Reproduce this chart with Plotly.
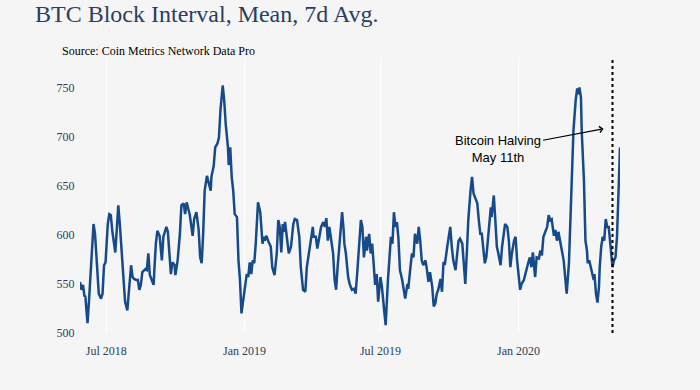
import plotly.graph_objects as go

dates = [
    "2018-05-27", "2018-05-29", "2018-05-31", "2018-06-02", "2018-06-03", "2018-06-06", "2018-06-08", "2018-06-11",
    "2018-06-14", "2018-06-16", "2018-06-19", "2018-06-21", "2018-06-24", "2018-06-26", "2018-06-28", "2018-06-30",
    "2018-07-03", "2018-07-05", "2018-07-07", "2018-07-09", "2018-07-13", "2018-07-14", "2018-07-17", "2018-07-19",
    "2018-07-21", "2018-07-23", "2018-07-26", "2018-07-29", "2018-07-30", "2018-08-02", "2018-08-03", "2018-08-05",
    "2018-08-07", "2018-08-10", "2018-08-12", "2018-08-14", "2018-08-16", "2018-08-18", "2018-08-22", "2018-08-24",
    "2018-08-26", "2018-08-28", "2018-08-30", "2018-09-02", "2018-09-03", "2018-09-05", "2018-09-07", "2018-09-10",
    "2018-09-13", "2018-09-15", "2018-09-19", "2018-09-21", "2018-09-25", "2018-09-27", "2018-09-30", "2018-10-01",
    "2018-10-04", "2018-10-07", "2018-10-09", "2018-10-12", "2018-10-14", "2018-10-16", "2018-10-18", "2018-10-20",
    "2018-10-24", "2018-10-26", "2018-10-29", "2018-11-01", "2018-11-03", "2018-11-05", "2018-11-07", "2018-11-09",
    "2018-11-12", "2018-11-14", "2018-11-17", "2018-11-18", "2018-11-21", "2018-11-23", "2018-11-26", "2018-11-28",
    "2018-11-30", "2018-12-03", "2018-12-05", "2018-12-07", "2018-12-10", "2018-12-11", "2018-12-13", "2018-12-15",
    "2018-12-17", "2018-12-19", "2018-12-22", "2018-12-24", "2018-12-26", "2018-12-28", "2018-12-31",
    "2019-01-02", "2019-01-04", "2019-01-06", "2019-01-08", "2019-01-10", "2019-01-12", "2019-01-14", "2019-01-16",
    "2019-01-19", "2019-01-22", "2019-01-25", "2019-01-27", "2019-01-28", "2019-01-30", "2019-02-02", "2019-02-05",
    "2019-02-07", "2019-02-10", "2019-02-13", "2019-02-15", "2019-02-17", "2019-02-19", "2019-02-21", "2019-02-22",
    "2019-02-24", "2019-02-26", "2019-03-01", "2019-03-04", "2019-03-07", "2019-03-09", "2019-03-12", "2019-03-15",
    "2019-03-17", "2019-03-20", "2019-03-23", "2019-03-25", "2019-03-28", "2019-03-31", "2019-04-02", "2019-04-03",
    "2019-04-06", "2019-04-08", "2019-04-10", "2019-04-13", "2019-04-16", "2019-04-18", "2019-04-20", "2019-04-22",
    "2019-04-24", "2019-04-26", "2019-04-29", "2019-05-01", "2019-05-03", "2019-05-05", "2019-05-08", "2019-05-11",
    "2019-05-13", "2019-05-14", "2019-05-16", "2019-05-18", "2019-05-19", "2019-05-21", "2019-05-24", "2019-05-27",
    "2019-05-29", "2019-05-31", "2019-06-03", "2019-06-05", "2019-06-07", "2019-06-09", "2019-06-12", "2019-06-13",
    "2019-06-16", "2019-06-18", "2019-06-20", "2019-06-22", "2019-06-24", "2019-06-26", "2019-06-28", "2019-07-01",
    "2019-07-03", "2019-07-06", "2019-07-08", "2019-07-11", "2019-07-14", "2019-07-15", "2019-07-17", "2019-07-19",
    "2019-07-21", "2019-07-23", "2019-07-25", "2019-07-27", "2019-07-30", "2019-08-01", "2019-08-03", "2019-08-06",
    "2019-08-07", "2019-08-10", "2019-08-12", "2019-08-14", "2019-08-16", "2019-08-19", "2019-08-21", "2019-08-23",
    "2019-08-25", "2019-08-27", "2019-08-30", "2019-09-01", "2019-09-03", "2019-09-05", "2019-09-08", "2019-09-10",
    "2019-09-12", "2019-09-14", "2019-09-16", "2019-09-19", "2019-09-21", "2019-09-23", "2019-09-25", "2019-09-28",
    "2019-09-30", "2019-10-02", "2019-10-04", "2019-10-06", "2019-10-09", "2019-10-11", "2019-10-13", "2019-10-15",
    "2019-10-18", "2019-10-20", "2019-10-22", "2019-10-24", "2019-10-26", "2019-10-29", "2019-10-31", "2019-11-02",
    "2019-11-04", "2019-11-07", "2019-11-09", "2019-11-11", "2019-11-13", "2019-11-15", "2019-11-17", "2019-11-19",
    "2019-11-21", "2019-11-23", "2019-11-25", "2019-11-26", "2019-11-29", "2019-12-01", "2019-12-03", "2019-12-05",
    "2019-12-08", "2019-12-10", "2019-12-12", "2019-12-14", "2019-12-17", "2019-12-19", "2019-12-21", "2019-12-23",
    "2019-12-26", "2019-12-28", "2019-12-30",
    "2020-01-01", "2020-01-03", "2020-01-05", "2020-01-08", "2020-01-10", "2020-01-12", "2020-01-14", "2020-01-16",
    "2020-01-18", "2020-01-20", "2020-01-21", "2020-01-23", "2020-01-25", "2020-01-28", "2020-01-30", "2020-02-01",
    "2020-02-03", "2020-02-06", "2020-02-08", "2020-02-10", "2020-02-12", "2020-02-14", "2020-02-17", "2020-02-19",
    "2020-02-21", "2020-02-23", "2020-02-26", "2020-02-28", "2020-03-01", "2020-03-03", "2020-03-05", "2020-03-08",
    "2020-03-10", "2020-03-12", "2020-03-14", "2020-03-17", "2020-03-19", "2020-03-20", "2020-03-22", "2020-03-24",
    "2020-03-25", "2020-03-28", "2020-03-30", "2020-04-01", "2020-04-02", "2020-04-04", "2020-04-06", "2020-04-08",
    "2020-04-10", "2020-04-11", "2020-04-13", "2020-04-15", "2020-04-17", "2020-04-18", "2020-04-20", "2020-04-22",
    "2020-04-24", "2020-04-26", "2020-04-28", "2020-04-30", "2020-05-02", "2020-05-04", "2020-05-05", "2020-05-07",
    "2020-05-09", "2020-05-11", "2020-05-13", "2020-05-15",
]

block_interval = [
    552, 544, 549, 537, 538, 510, 533, 567,
    611, 601, 560, 540, 535, 540, 569, 572,
    611, 621, 620, 604, 582, 598, 630, 611,
    591, 564, 532, 523, 533, 560, 569, 557,
    555, 554, 554, 544, 549, 562, 565, 564,
    581, 559, 554, 549, 564, 591, 604, 599,
    574, 598, 608, 603, 560, 572, 569, 559,
    574, 601, 630, 632, 621, 633, 627, 621,
    599, 616, 623, 605, 577, 571, 601, 645,
    660, 654, 645, 659, 670, 689, 693, 699,
    727, 752, 737, 713, 689, 671, 689, 659,
    645, 621, 618, 574, 554, 520, 537,
    545, 560, 557, 572, 560, 574, 571, 591,
    633, 623, 591, 598, 594, 599, 593, 588,
    567, 559, 581, 615, 608, 582, 611, 603,
    613, 598, 581, 588, 611, 616, 615, 598,
    567, 544, 542, 567, 584, 598, 608, 598,
    598, 586, 594, 608, 613, 608, 617, 594,
    608, 598, 581, 554, 544, 567, 594, 623,
    605, 591, 581, 560, 557, 550, 544, 545,
    540, 560, 594, 615, 608, 577, 598, 584,
    601, 581, 591, 574, 549, 560, 532, 557,
    547, 523, 508, 554, 588, 598, 591, 623,
    608, 613, 596, 564, 554, 542, 535, 550,
    545, 567, 581, 577, 601, 591, 608, 594,
    574, 569, 574, 564, 552, 562, 547, 527,
    530, 540, 544, 555, 542, 572, 571, 588,
    596, 608, 588, 574, 564, 581, 594, 596,
    591, 571, 550, 581, 615, 645, 659, 642,
    638, 632, 615, 601, 601, 584, 571, 577,
    594, 608, 628, 618, 640, 615, 588, 581,
    569, 588, 601, 611, 608, 594, 567, 581,
    594, 598, 574,
    554, 544, 550, 554, 560, 567, 572, 577,
    567, 582, 574, 557, 577, 576, 584, 579,
    598, 605, 608, 620, 615, 616, 599, 605,
    594, 603, 591, 584, 574, 557, 540, 571,
    621, 672, 706, 737, 749, 743, 750, 740,
    706, 655, 594, 584, 571, 574, 567, 562,
    554, 560, 540, 531, 547, 567, 588, 598,
    594, 616, 608, 608, 588, 574, 567, 574,
    577, 598, 638, 689,
]

x_tick_vals = ["2018-07-01", "2019-01-01", "2019-07-01", "2020-01-01"]
x_tick_text = ["Jul 2018", "Jan 2019", "Jul 2019", "Jan 2020"]
y_tick_vals = [500, 550, 600, 650, 700, 750]

halving_marker_date = "2020-05-05"
arrow_point = ("2020-04-23", 708)

SERIF = "Liberation Serif, Times New Roman, serif"
SANS = "Liberation Sans, Arial, sans-serif"
BG = "#f5f5f5"

fig = go.Figure()
fig.add_trace(go.Scatter(
    x=dates, y=block_interval, mode="lines",
    line=dict(color="#164a8a", width=2.5),
    showlegend=False,
))

fig.add_shape(type="line", xref="x", yref="paper",
              x0=halving_marker_date, x1=halving_marker_date, y0=0, y1=1,
              line=dict(color="black", width=2, dash="dot"))

fig.add_annotation(
    x=arrow_point[0], y=arrow_point[1], xref="x", yref="y",
    text="Bitcoin Halving<br>May 11th", showarrow=True,
    ax=-105, ay=20, arrowhead=4, arrowsize=1, arrowwidth=1.2, arrowcolor="black",
    font=dict(family=SANS, size=13, color="black"),
)

fig.add_annotation(
    x=-0.037, y=1.0255, xref="paper", yref="paper", xanchor="left", yanchor="middle",
    text="Source: Coin Metrics Network Data Pro", showarrow=False,
    font=dict(family=SERIF, size=12, color="black"),
)

fig.update_layout(
    width=700, height=390,
    margin=dict(l=80, r=80, t=58, b=57),
    paper_bgcolor=BG, plot_bgcolor=BG,
    title=dict(text="BTC Block Interval, Mean, 7d Avg.", x=0.05, xanchor="left",
               yref="container", y=0.965, yanchor="middle",
               font=dict(family=SERIF, size=24, color="#2a3f5f")),
    xaxis=dict(tickvals=x_tick_vals, ticktext=x_tick_text, showgrid=True,
               gridcolor="white", gridwidth=1, zeroline=False, showline=False,
               ticks="outside", ticklen=7, tickcolor="rgba(0,0,0,0)",
               tickfont=dict(family=SERIF, size=12, color="#2a3f5f")),
    yaxis=dict(range=[500, 780], tickvals=y_tick_vals, showgrid=False,
               zeroline=False, showline=False,
               ticks="outside", ticklen=2, tickcolor="rgba(0,0,0,0)",
               tickfont=dict(family=SERIF, size=12, color="#2a3f5f")),
)

fig.write_html(
    "out.html",
    config={"displayModeBar": False},
    post_script="document.body.style.margin='0';document.body.style.background='#f5f5f5';",
)
